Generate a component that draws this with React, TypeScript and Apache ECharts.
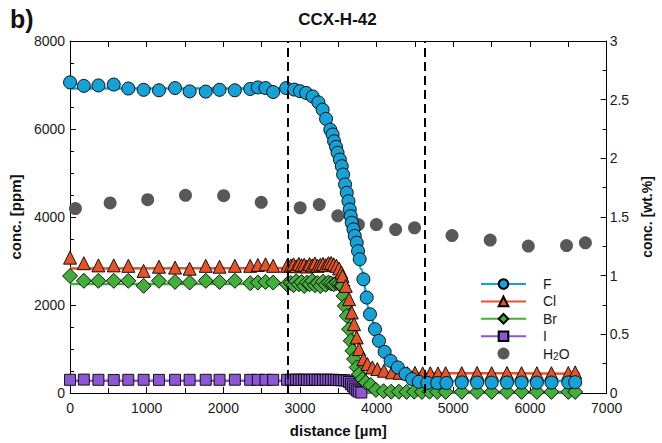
import React, { useEffect, useRef } from "react";
import * as echarts from "echarts";

const FONT = "Liberation Sans, Arial, Helvetica, sans-serif";

// ---------- data ----------
const X_TICKS = [0, 1000, 2000, 3000, 4000, 5000, 6000, 7000];
const DASHED_X = [2844, 4623];

const F_POINTS: number[][] = [
  [0, 7060], [180, 6980], [370, 6990], [570, 7010], [760, 6920], [960, 6890], [1160, 6880],
  [1370, 6930], [1560, 6855], [1770, 6850], [1950, 6890], [2150, 6880], [2350, 6910],
  [2450, 6945], [2550, 6930], [2650, 6840], [2820, 6930], [2925, 6895], [3000, 6860],
  [3080, 6820], [3165, 6740], [3240, 6605], [3295, 6440], [3340, 6230], [3395, 5985],
  [3425, 5875], [3445, 5720], [3470, 5595], [3490, 5460], [3520, 5305], [3545, 5155],
  [3562, 4965], [3588, 4740], [3610, 4550], [3632, 4360], [3649, 4170], [3662, 4020],
  [3675, 3870], [3697, 3720], [3714, 3570], [3740, 3415], [3757, 3225], [3779, 3040],
  [3827, 2585], [3870, 2170], [3913, 1790], [3978, 1450], [4030, 1185], [4104, 935],
  [4182, 730], [4277, 580], [4377, 430], [4463, 315], [4550, 255], [4660, 230], [4790, 228],
  [4910, 228], [5110, 240], [5310, 238], [5500, 236], [5700, 238], [5890, 238], [6090, 236],
  [6280, 238], [6500, 240], [6590, 245],
];
const F_FIT: number[][] = [
  [0, 6920], [2800, 6920], [2950, 6905], [3100, 6820], [3200, 6700], [3300, 6440],
  [3400, 5980], [3500, 5380], [3600, 4620], [3700, 3700], [3800, 2810], [3900, 1920],
  [4000, 1330], [4100, 950], [4200, 690], [4300, 520], [4400, 400], [4500, 320],
  [4600, 290], [4750, 275], [5000, 270], [6650, 270],
];

const CL_POINTS: number[][] = [
  [0, 3076], [180, 2950], [370, 2900], [570, 2900], [760, 2890], [960, 2775], [1160, 2870],
  [1370, 2850], [1560, 2825], [1770, 2890], [1950, 2870], [2150, 2890], [2350, 2890],
  [2450, 2910], [2550, 2925], [2650, 2890], [2830, 2890],
  [2880, 2900], [2915, 2925], [2950, 2880], [2985, 2935], [3020, 2905], [3055, 2915],
  [3090, 2875], [3125, 2930], [3160, 2900], [3195, 2945], [3230, 2890], [3265, 2915],
  [3300, 2935], [3335, 2905], [3370, 2950], [3405, 2955], [3440, 2925], [3475, 2890],
  [3510, 2830], [3540, 2740],
  [3554, 2660], [3597, 2434], [3640, 2132], [3675, 1830], [3705, 1565], [3740, 1263],
  [3770, 998], [3827, 771], [3879, 658], [3944, 582], [4009, 544], [4095, 506],
  [4200, 470], [4300, 460], [4400, 450], [4500, 455], [4600, 445], [4700, 450], [4800, 445],
  [4900, 450], [5110, 450], [5310, 455], [5500, 450], [5700, 455], [5890, 450], [6090, 450],
  [6280, 450], [6500, 455], [6590, 470],
];
const CL_FIT: number[][] = [
  [0, 2830], [3400, 2840], [3460, 2820], [3520, 2720], [3560, 2580], [3600, 2380],
  [3650, 2010], [3700, 1620], [3750, 1260], [3800, 940], [3850, 700], [3900, 570],
  [3950, 500], [4050, 455], [6650, 440],
];

const BR_POINTS: number[][] = [
  [0, 2660], [180, 2550], [370, 2550], [570, 2550], [760, 2550], [960, 2435], [1160, 2550],
  [1370, 2525], [1560, 2510], [1770, 2550], [1950, 2525], [2150, 2550], [2350, 2495],
  [2450, 2510], [2550, 2525], [2650, 2510], [2830, 2470],
  [2880, 2500], [2915, 2450], [2950, 2540], [2985, 2470], [3020, 2520], [3055, 2430],
  [3090, 2510], [3125, 2470], [3160, 2550], [3195, 2450], [3230, 2500], [3265, 2430],
  [3300, 2530], [3335, 2460], [3370, 2510], [3405, 2490], [3440, 2470], [3475, 2500],
  [3510, 2480], [3540, 2450],
  [3554, 2434], [3567, 2207], [3584, 1980], [3610, 1753], [3640, 1451], [3662, 1186],
  [3684, 959], [3705, 771], [3740, 582], [3770, 431], [3814, 317], [3857, 243], [3922, 181],
  [3990, 70], [4090, 40], [4190, 30], [4290, 30], [4390, 25], [4490, 30], [4590, 25],
  [4690, 30], [4790, 25], [4900, 25], [5110, 25], [5310, 25], [5500, 25], [5700, 25],
  [5890, 25], [6090, 25], [6280, 25], [6500, 25], [6590, 25],
];
const BR_FIT: number[][] = [
  [0, 2480], [3540, 2480], [3580, 2350], [3620, 2050], [3660, 1650], [3700, 1250],
  [3730, 900], [3760, 560], [3790, 290], [3820, 120], [3860, 45], [3950, 20], [6650, 20],
];

const I_POINTS: number[][] = [
  [0, 300], [180, 305], [370, 300], [570, 295], [760, 300], [960, 300], [1160, 298],
  [1370, 300], [1560, 300], [1770, 300], [1950, 300], [2150, 302], [2350, 300],
  [2450, 300], [2550, 300], [2650, 300], [2830, 300],
  [2880, 300], [2915, 295], [2950, 305], [2985, 300], [3020, 298], [3055, 302],
  [3090, 300], [3125, 296], [3160, 300], [3195, 304], [3230, 300], [3265, 298],
  [3300, 300], [3335, 302], [3370, 300], [3405, 298], [3440, 300], [3475, 296],
  [3510, 292], [3540, 290], [3575, 288], [3610, 282],
  [3640, 250], [3665, 200], [3690, 150], [3715, 100], [3740, 60], [3765, 30], [3800, 10],
];
const I_FIT: number[][] = [
  [0, 280], [3600, 280], [3640, 250], [3680, 170], [3720, 80], [3760, 25], [3800, 5],
  [3900, 0], [6650, 0],
];

const H2O_POINTS: number[][] = [
  [70, 1.572], [523, 1.62], [1013, 1.648], [1506, 1.685], [2004, 1.682], [2494, 1.625],
  [3002, 1.578], [3251, 1.606], [3493, 1.51], [3762, 1.436], [3996, 1.436], [4247, 1.393],
  [4494, 1.408], [4983, 1.342], [5481, 1.303], [5978, 1.252], [6477, 1.257], [6723, 1.28],
];

const LEGEND_NAMES = ["F", "Cl", "Br", "I", "H2O"];

const COLORS = {
  F: "#19a1d5",
  Cl: "#e2552c",
  Br: "#44ad3b",
  I: "#8d57d3",
  H2O: "#585858",
};

function App() {
  const ref = useRef<HTMLDivElement>(null);

  useEffect(() => {
    if (!ref.current) return;
    const chart = echarts.init(ref.current, undefined, { renderer: "svg" });

    const fitSeries = (name: string, data: number[][], color: string, symbol: string) => ({
      name,
      type: "line",
      data,
      symbol,
      showSymbol: false,
      smooth: 0.3,
      smoothMonotone: "x",
      lineStyle: { color, width: 2.5 },
      itemStyle: { color, borderColor: "#000", borderWidth: 1 },
      silent: true,
      z: 2,
    });
    const pointSeries = (name: string, data: number[][], color: string, symbol: string, size: number) => ({
      name,
      type: "scatter",
      data,
      symbol,
      symbolSize: size,
      itemStyle: { color, borderColor: "#000", borderWidth: 0.9, opacity: 1 },
      z: 3,
    });

    const tickColor = "#000";
    const plain = (v: number) => String(v);
    const labelStyle = { color: "#1a1a1a", fontSize: 14, fontFamily: FONT, formatter: plain };
    const nameStyle = { color: "#111", fontSize: 15, fontWeight: "bold", fontFamily: FONT };

    chart.setOption({
      animation: false,
      backgroundColor: "#fff",
      grid: { left: 68, right: 55, top: 41, bottom: 49, containLabel: false },
      graphic: [
        {
          type: "text",
          x: 337.5,
          y: 19,
          style: {
            text: "CCX-H-42",
            font: `bold 17px ${FONT}`,
            fill: "#111",
            align: "center",
            verticalAlign: "middle",
            textAlign: "center",
            textVerticalAlign: "middle",
          },
        },
        {
          type: "text",
          x: 10,
          y: 19,
          style: {
            text: "b)",
            font: `bold 25px ${FONT}`,
            fill: "#111",
            verticalAlign: "middle",
            textVerticalAlign: "middle",
          },
        },
      ],
      legend: {
        data: LEGEND_NAMES,
        orient: "vertical",
        left: 475,
        top: 272,
        itemWidth: 45,
        itemHeight: 12,
        itemGap: 3.4,
        selectedMode: false,
        textStyle: {
          fontSize: 14,
          color: "#1a1a1a",
          fontFamily: FONT,
          padding: [0, 0, 0, 12],
          rich: {
            sub: { fontSize: 10, fontFamily: FONT, color: "#1a1a1a", verticalAlign: "top", padding: [6, 0, 0, 0] },
          },
        },
        formatter: (name: string) => (name === "H2O" ? "H{sub|2}O" : name),
      },
      xAxis: [
        {
          type: "value",
          min: X_TICKS[0],
          max: X_TICKS[X_TICKS.length - 1],
          interval: 1000,
          position: "bottom",
          axisLine: { show: true, onZero: false, lineStyle: { color: tickColor, width: 1 } },
          axisTick: { show: true, inside: true, length: 6, lineStyle: { color: tickColor } },
          minorTick: { show: true, splitNumber: 2, length: 5, lineStyle: { color: tickColor } },
          splitLine: { show: false },
          axisLabel: { ...labelStyle, margin: 8 },
          name: "distance [µm]",
          nameLocation: "middle",
          nameGap: 30,
          nameTextStyle: nameStyle,
        },
        {
          type: "value",
          min: X_TICKS[0],
          max: X_TICKS[X_TICKS.length - 1],
          interval: 500,
          position: "top",
          axisLine: { show: true, onZero: false, lineStyle: { color: tickColor, width: 1 } },
          axisTick: { show: true, inside: true, length: 6, lineStyle: { color: tickColor } },
          axisLabel: { show: false },
          splitLine: { show: false },
        },
      ],
      yAxis: [
        {
          type: "value",
          min: 0,
          max: 8000,
          interval: 2000,
          position: "left",
          axisLine: { show: true, onZero: false, lineStyle: { color: tickColor, width: 1 } },
          axisTick: { show: true, inside: true, length: 6, lineStyle: { color: tickColor } },
          minorTick: { show: true, splitNumber: 4, length: 4, lineStyle: { color: tickColor } },
          splitLine: { show: false },
          axisLabel: { ...labelStyle, margin: 5 },
          name: "conc. [ppm]",
          nameLocation: "middle",
          nameGap: 42,
          nameTextStyle: nameStyle,
        },
        {
          type: "value",
          min: 0,
          max: 3,
          interval: 0.5,
          position: "right",
          axisLine: { show: true, onZero: false, lineStyle: { color: tickColor, width: 1 } },
          axisTick: { show: true, inside: true, length: 6, lineStyle: { color: tickColor } },
          minorTick: { show: true, splitNumber: 2, length: 4, lineStyle: { color: tickColor } },
          splitLine: { show: false },
          axisLabel: { ...labelStyle, margin: 3 },
          name: "conc. [wt.%]",
          nameLocation: "middle",
          nameGap: 32,
          nameTextStyle: { ...nameStyle, fontSize: 14 },
        },
      ],
      series: [
        {
          name: "H2O",
          type: "scatter",
          yAxisIndex: 1,
          data: H2O_POINTS,
          symbol: "circle",
          symbolSize: 13,
          itemStyle: { color: COLORS.H2O, opacity: 1 },
          z: 1,
        },
        fitSeries("I", I_FIT, COLORS.I, "rect"),
        pointSeries("I", I_POINTS, COLORS.I, "rect", 11),
        fitSeries("Br", BR_FIT, COLORS.Br, "diamond"),
        pointSeries("Br", BR_POINTS, COLORS.Br, "diamond", 15),
        fitSeries("Cl", CL_FIT, COLORS.Cl, "triangle"),
        pointSeries("Cl", CL_POINTS, COLORS.Cl, "triangle", 13),
        {
          ...fitSeries("F", F_FIT, COLORS.F, "circle"),
          markLine: {
            silent: true,
            symbol: ["none", "none"],
            label: { show: false },
            lineStyle: { color: "#000", width: 2, type: [9, 5] },
            data: DASHED_X.map((x) => ({ xAxis: x })),
          },
        },
        pointSeries("F", F_POINTS, COLORS.F, "circle", 13),
      ],
    });

    return () => chart.dispose();
  }, []);

  return (
    <div
      ref={ref}
      style={{ position: "absolute", left: 0, top: 0, width: 662, height: 443 }}
    />
  );
}

export default App;
